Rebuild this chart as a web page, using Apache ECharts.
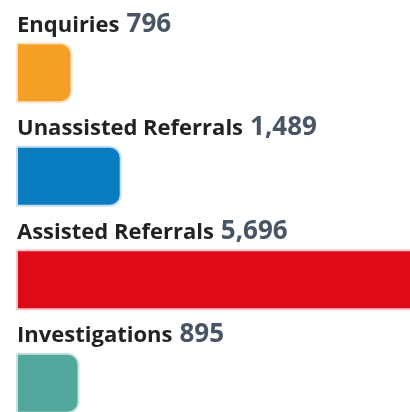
<!DOCTYPE html>
<html>
<head>
<meta charset="utf-8">
<script src="https://cdn.jsdelivr.net/npm/echarts@6/dist/echarts.min.js"></script>
<style>
  html, body { margin: 0; padding: 0; background: #ffffff; }
  #chart { width: 410px; height: 412px; }
</style>
</head>
<body>
<div id="chart"></div>
<script>
// Case counts by stage
const categories = ['Enquiries', 'Unassisted Referrals', 'Assisted Referrals', 'Investigations'];
const values = [796, 1489, 5696, 895];
const barColors = ['#F4A026', '#0A7DC2', '#DE0A17', '#52A89D'];
const borderColors = ['#FAE6CC', '#C9DFF1', '#F4C8CA', '#CBE3DF'];

const chart = echarts.init(document.getElementById('chart'), null, { renderer: 'canvas' });

const fmt = v => v.toLocaleString('en-US');

chart.setOption({
  animation: false,
  backgroundColor: '#ffffff',
  grid: { left: 16, right: 0, top: 21, bottom: -23, containLabel: false, outerBoundsMode: 'none' },
  xAxis: {
    type: 'value',
    min: 0,
    max: 5550,
    show: false
  },
  yAxis: {
    type: 'category',
    inverse: true,
    data: categories,
    show: false
  },
  series: [{
    type: 'bar',
    barWidth: 61,
    clip: false,
    data: values.map((v, i) => ({
      value: v,
      itemStyle: {
        color: barColors[i],
        borderColor: borderColors[i],
        borderWidth: 2,
        borderRadius: [0, 11, 11, 0]
      }
    })),
    label: {
      show: true,
      position: [1, -5],
      align: 'left',
      verticalAlign: 'bottom',
      formatter: p => '{name|' + categories[p.dataIndex] + '}{val|' + fmt(values[p.dataIndex]) + '}',
      rich: {
        name: {
          fontFamily: 'Open Sans',
          fontWeight: 700,
          fontSize: 22,
          lineHeight: 32,
          color: '#222222',
          verticalAlign: 'bottom',
          padding: [0, 0, 1, 0]
        },
        val: {
          fontFamily: 'Open Sans',
          fontWeight: 700,
          fontSize: 26,
          lineHeight: 32,
          color: '#475565',
          verticalAlign: 'bottom',
          padding: [0, 0, 0, 7]
        }
      }
    }
  }]
});
</script>
</body>
</html>
